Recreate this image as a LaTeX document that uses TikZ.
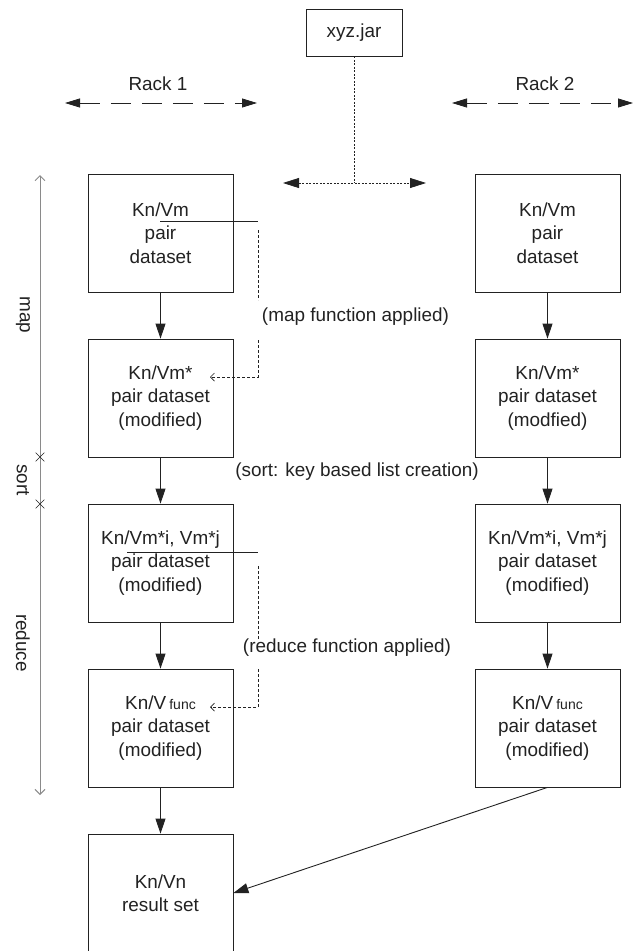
\documentclass[tikz,border=0pt]{standalone}
\usepackage{fontspec}
\setmainfont{Liberation Sans}
\usetikzlibrary{arrows.meta,shapes.misc}
\definecolor{ink}{HTML}{222222}
\definecolor{axisgray}{HTML}{8A8A8A}
\newcommand\fnsub{{\fontsize{14}{14}\selectfont func}}
\begin{document}
\begin{tikzpicture}[x=1pt,y=-1pt,
  box/.style={draw=ink, line width=0.8pt, minimum width=145pt, minimum height=118pt,
    inner sep=0pt, align=center, font=\fontsize{18.9}{23.5}\selectfont, text=ink},
  lbl/.style={font=\fontsize{18.9}{23.5}\selectfont, text=ink, inner sep=0pt},
  flow/.style={draw=ink, line width=0.9pt, -{Triangle[length=15pt,width=10pt]}},
  rackarrow/.style={draw=ink, line width=0.8pt, dash pattern=on 20pt off 11pt,
    {Triangle[length=15pt,width=9pt]}-{Triangle[length=15pt,width=9pt]}},
  jarline/.style={draw=ink, line width=0.8pt, dash pattern=on 2pt off 1.5pt},
  dashline/.style={draw=ink, line width=0.7pt, dash pattern=on 3pt off 2pt},
  solidline/.style={draw=ink, line width=0.9pt},
  axisline/.style={draw=axisgray, line width=1pt,
    {Straight Barb[length=5pt,width=10pt]}-{Straight Barb[length=5pt,width=10pt]}},
  crossmark/.style={cross out, draw=ink, line width=0.6pt, minimum size=8pt, inner sep=0pt}
]
\useasboundingbox (0,0) rectangle (634,951);
\fill[white] (0,0) rectangle (634,951);

% top
\node[draw=ink, line width=0.8pt, minimum width=96pt, minimum height=47pt, inner sep=0pt,
  font=\fontsize{18.9}{23.5}\selectfont, text=ink] (jar) at (354,32.5) {xyz.jar};
\node[lbl] (rack1) at (158,84) {Rack 1};
\node[lbl] (rack2) at (545,84) {Rack 2};
\coordinate (r1a) at (65,103); \coordinate (r1b) at (257,103);
\coordinate (r2a) at (452,103); \coordinate (r2b) at (633,103);
\draw[rackarrow] (r1a) -- (r1b);
\draw[rackarrow] (r2a) -- (r2b);
\coordinate (jh) at (354,183); \coordinate (jl) at (283,183); \coordinate (jr) at (426,183);
\draw[jarline] (jar.south) -- (jh);
\draw[jarline, {Triangle[length=16pt,width=10pt]}-{Triangle[length=16pt,width=10pt]}] (jl) -- (jr);

% boxes
\node[box] (L1) at (160.5,233) {Kn/Vm\\pair\\dataset};
\node[box] (L2) at (160.5,398) {Kn/Vm*\\pair dataset\\(modified)};
\node[box] (L3) at (160.5,563) {Kn/Vm*i, Vm*j\\pair dataset\\(modified)};
\node[box] (L4) at (160.5,728) {Kn/V\,\fnsub\\pair dataset\\(modified)};
\node[box] (R1) at (547.5,233) {Kn/Vm\\pair\\dataset};
\node[box] (R2) at (547.5,398) {Kn/Vm*\\pair dataset\\(modfied)};
\node[box] (R3) at (547.5,563) {Kn/Vm*i, Vm*j\\pair dataset\\(modified)};
\node[box] (R4) at (547.5,728) {Kn/V\,\fnsub\\pair dataset\\(modified)};
\node[box] (res) at (160.5,893) {Kn/Vn\\result set};

\draw[flow] (L1.south) -- (L2.north);
\draw[flow] (L2.south) -- (L3.north);
\draw[flow] (L3.south) -- (L4.north);
\draw[flow] (L4.south) -- (res.north);
\draw[flow] (R1.south) -- (R2.north);
\draw[flow] (R2.south) -- (R3.north);
\draw[flow] (R3.south) -- (R4.north);
\draw[flow] (R4.south) -- (res.east);

% middle labels
\node[lbl] (maptxt) at (355.5,317) {(map function applied)};
\node[lbl] (sorttxt) at (357,472) {(sort: key based list creation)};
\node[lbl] (redtxt) at (347,648) {(reduce function applied)};

% map function connector
\coordinate (m1) at (160,221); \coordinate (m2) at (258,221);
\coordinate (m3) at (258,230); \coordinate (m4) at (258,300);
\coordinate (m5) at (258,340); \coordinate (m6) at (258,377); \coordinate (m7) at (210,377);
\draw[solidline] (m1) -- (m2);
\draw[dashline] (m3) -- (m4);
\draw[dashline, -{Straight Barb[length=4pt,width=8pt]}] (m5) -- (m6) -- (m7);

% reduce function connector
\coordinate (n1) at (127,552); \coordinate (n2) at (258,552);
\coordinate (n3) at (258,566); \coordinate (n4) at (258,640);
\coordinate (n5) at (258,669); \coordinate (n6) at (258,707); \coordinate (n7) at (210,707);
\draw[solidline] (n1) -- (n2);
\draw[dashline] (n3) -- (n4);
\draw[dashline, -{Straight Barb[length=4pt,width=8pt]}] (n5) -- (n6) -- (n7);

% left axis
\coordinate (ax1) at (40,175); \coordinate (ax2) at (40,795);
\draw[axisline] (ax1) -- (ax2);
\node[crossmark] (x1) at (40,457) {};
\node[crossmark] (x2) at (40,504) {};
\node[lbl, rotate=-90] (mapax) at (23,315) {map};
\node[lbl, rotate=-90] (sortax) at (23,480) {sort};
\node[lbl, rotate=-90] (redax) at (23,643) {reduce};
\end{tikzpicture}
\end{document}
